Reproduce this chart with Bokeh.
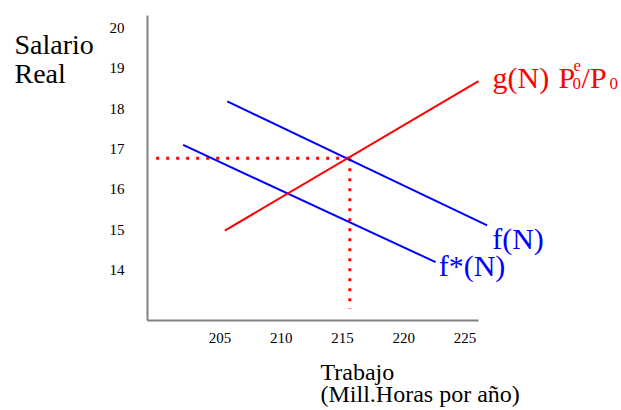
from bokeh.plotting import figure
from bokeh.models import Label, FixedTicker, Range1d
from bokeh.embed import file_html
from bokeh.resources import INLINE

# ---- data ----
x_ticks = [205, 210, 215, 220, 225]
y_ticks = [14, 15, 16, 17, 18, 19, 20]

f_N = [205.6, 226.8]          # labour for f(N)
f_W = [18.18, 15.11]          # real wage for f(N)
fs_N = [202.0, 222.6]         # labour for f*(N)
fs_W = [17.10, 14.20]         # real wage for f*(N)
g_N = [205.4, 226.1]          # labour for g(N) Pe0/P0
g_W = [14.98, 18.68]          # real wage for g(N) Pe0/P0
eq_N = 215.6                  # equilibrium labour
eq_W = 16.77                  # equilibrium real wage
guide_N0 = 199.8              # start of horizontal guide
guide_W0 = 13.05              # end of vertical guide

# ---- view ----
X_LO, X_HI = 187.10, 237.76
Y_LO, Y_HI = 10.529, 20.675
AX_X = 199.09                 # where the vertical axis stands
AX_Y = 12.756                 # where the horizontal axis stands
X_AXIS_END = 226.09
Y_AXIS_END = 20.30

RED = "#ff0000"
BLUE = "#0000ff"
SERIF = "Liberation Serif"

p = figure(width=621, height=410, output_backend="svg", toolbar_location=None,
           x_range=Range1d(X_LO, X_HI), y_range=Range1d(Y_LO, Y_HI),
           min_border_left=0, min_border_right=0, min_border_top=0,
           min_border_bottom=0)
p.outline_line_color = None
p.grid.visible = False
p.background_fill_color = "white"
p.border_fill_color = "white"

for ax in (p.xaxis[0], p.yaxis[0]):
    ax.axis_line_color = "#808080"
    ax.axis_line_width = 2
    ax.major_tick_line_color = None
    ax.minor_tick_line_color = None
    ax.major_tick_out = 0
    ax.major_tick_in = 0
    ax.minor_tick_out = 0
    ax.major_label_text_font = SERIF
    ax.major_label_text_font_size = "15px"
    ax.major_label_text_color = "black"

p.xaxis[0].ticker = FixedTicker(ticks=x_ticks)
p.yaxis[0].ticker = FixedTicker(ticks=y_ticks)
p.xaxis[0].fixed_location = AX_Y
p.yaxis[0].fixed_location = AX_X
p.xaxis[0].bounds = (AX_X, X_AXIS_END)
p.yaxis[0].bounds = (AX_Y, Y_AXIS_END)
p.xaxis[0].major_label_standoff = 12
p.yaxis[0].major_label_standoff = 23

# guides
p.line([guide_N0, eq_N], [eq_W, eq_W], line_color=RED, line_width=3, line_dash="3 7")
p.line([eq_N, eq_N], [eq_W, guide_W0], line_color=RED, line_width=3, line_dash="3 7")

# curves
p.line(f_N, f_W, line_color=BLUE, line_width=2)
p.line(fs_N, fs_W, line_color=BLUE, line_width=2)
p.line(g_N, g_W, line_color=RED, line_width=2)

def lab(text, x, y, dx, dy, size, color="black"):
    p.add_layout(Label(x=x, y=y, x_offset=dx, y_offset=dy, text=text,
                       text_font=SERIF, text_font_size=size, text_color=color,
                       text_baseline="alphabetic", text_align="left"))

# curve labels
lab("f(N)", f_N[1], f_W[1], 5, -13, "30px", BLUE)
lab("f*(N)", fs_N[1], fs_W[1], 3, -3, "30px", BLUE)

gx, gy = g_N[1], g_W[1]
lab("g(N)", gx, gy, 14, 4, "30px", RED)
lab("P", gx, gy, 80, 4, "30px", RED)
lab("e", gx, gy, 95, 16, "17px", RED)
lab("0", gx, gy, 94, -2, "17px", RED)
lab("/P", gx, gy, 103, 4, "30px", RED)
lab("0", gx, gy, 131, -2, "17px", RED)

# axis titles
lab("Salario", AX_X, y_ticks[-1], -133, -17, "28px")
lab("Real", AX_X, y_ticks[-1], -133, -46, "28px")
lab("Trabajo", x_ticks[2], AX_Y, -22, -51, "24px")
lab("(Mill.Horas por año)", x_ticks[2], AX_Y, -22, -73, "24px")

open("out.html", "w").write(file_html(p, INLINE))
